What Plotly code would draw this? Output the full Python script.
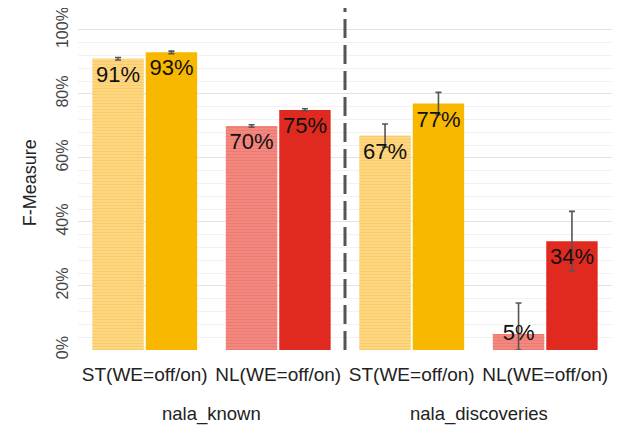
import numpy as np
import plotly.graph_objects as go

# data
methods = ["ST(WE=off/on)", "NL(WE=off/on)", "ST(WE=off/on)", "NL(WE=off/on)"]
corpora = ["nala_known", "nala_discoveries"]
f_off = [91, 70, 67, 5]
f_on = [93, 75, 77, 34]
err_off = [0.4, 0.4, 3.6, 9.7]
err_on = [0.4, 0.4, 3.5, 9.3]

light = ["#FDD680", "#F28880", "#FDD680", "#F28880"]
stripe = ["#FACB6C", "#EC7970", "#FACB6C", "#EC7970"]
solid = ["#F8B800", "#E02A20", "#F8B800", "#E02A20"]

x = np.arange(len(methods))
off = np.array(f_off) / 100
on = np.array(f_on) / 100
e_off = np.array(err_off) / 100
e_on = np.array(err_on) / 100

def label_y(v):
    # labels sit just under the bar top, small bars keep the label at the top
    return np.where(v > 0.12, v - 0.055, v)

fig = go.Figure()
# WE=off: light fill, then a striped layer on top
fig.add_trace(go.Bar(
    x=x - 0.2, y=off, width=0.385,
    marker=dict(color=light, line=dict(width=0)),
    showlegend=False, hoverinfo="skip",
))
fig.add_trace(go.Bar(
    x=x - 0.2, y=off, width=0.385,
    marker=dict(color=stripe, line=dict(width=0),
                pattern=dict(shape="-", size=3, solidity=0.3, fgcolor=stripe,
                             bgcolor="rgba(0,0,0,0)", fillmode="replace")),
    error_y=dict(type="data", array=e_off, arrayminus=np.minimum(e_off, off),
                 color="#555555", thickness=1.6, width=3),
    showlegend=False,
))
# WE=on: solid fill
fig.add_trace(go.Bar(
    x=x + 0.2, y=on, width=0.385,
    marker=dict(color=solid, line=dict(width=0)),
    error_y=dict(type="data", array=e_on, arrayminus=np.minimum(e_on, on),
                 color="#555555", thickness=1.6, width=3),
    showlegend=False,
))
fig.add_trace(go.Scatter(
    x=np.concatenate([x - 0.2, x + 0.2]),
    y=np.concatenate([label_y(off), label_y(on)]),
    mode="text",
    text=[f"{v}%" for v in f_off + f_on],
    textfont=dict(size=22, color="#111111", family="Liberation Sans"),
    showlegend=False, hoverinfo="skip",
))

fig.add_shape(type="line", xref="x", yref="paper", x0=1.5, x1=1.5, y0=0, y1=1.06,
              line=dict(color="#555555", width=3, dash="19px,7px"))

for i, name in enumerate(corpora):
    fig.add_annotation(x=2 * i + 0.5, xref="x", y=-0.194, yref="paper", text=name,
                       showarrow=False, xanchor="center", yanchor="middle",
                       font=dict(size=18.5, color="#222222", family="Liberation Sans"))

fig.add_annotation(x=-0.09, xref="paper", y=0.51, yref="paper", text="F-Measure",
                   textangle=-90, showarrow=False, xanchor="center", yanchor="middle",
                   font=dict(size=18, color="#222222", family="Liberation Sans"))

# the page body adds an 8px offset, so the figure is drawn 8px smaller with trimmed margins
fig.update_layout(
    width=625, height=422,
    margin=dict(l=70, r=21, t=13, b=80),
    barmode="overlay",
    plot_bgcolor="white", paper_bgcolor="white",
    font=dict(family="Liberation Sans", color="#333333"),
    xaxis=dict(range=[-0.5, 3.5], tickvals=x, ticktext=methods, showgrid=False, automargin=False,
               zeroline=False, ticks="", ticklabelstandoff=11, tickfont=dict(size=19, color="#222222")),
    yaxis=dict(range=[0, 1.028], tickvals=[0, 0.2, 0.4, 0.6, 0.8, 1.0], tickformat=".0%",
               tickangle=-90, tickfont=dict(size=16, color="#444444"), automargin=False,
               ticklabelstandoff=6, ticklabeloverflow="allow",
               gridcolor="#E3E3E3", gridwidth=1, zeroline=False, ticks="",
               minor=dict(dtick=0.04, showgrid=True, gridcolor="#F2F2F2", gridwidth=1)),
)

fig.write_html("out.html")
